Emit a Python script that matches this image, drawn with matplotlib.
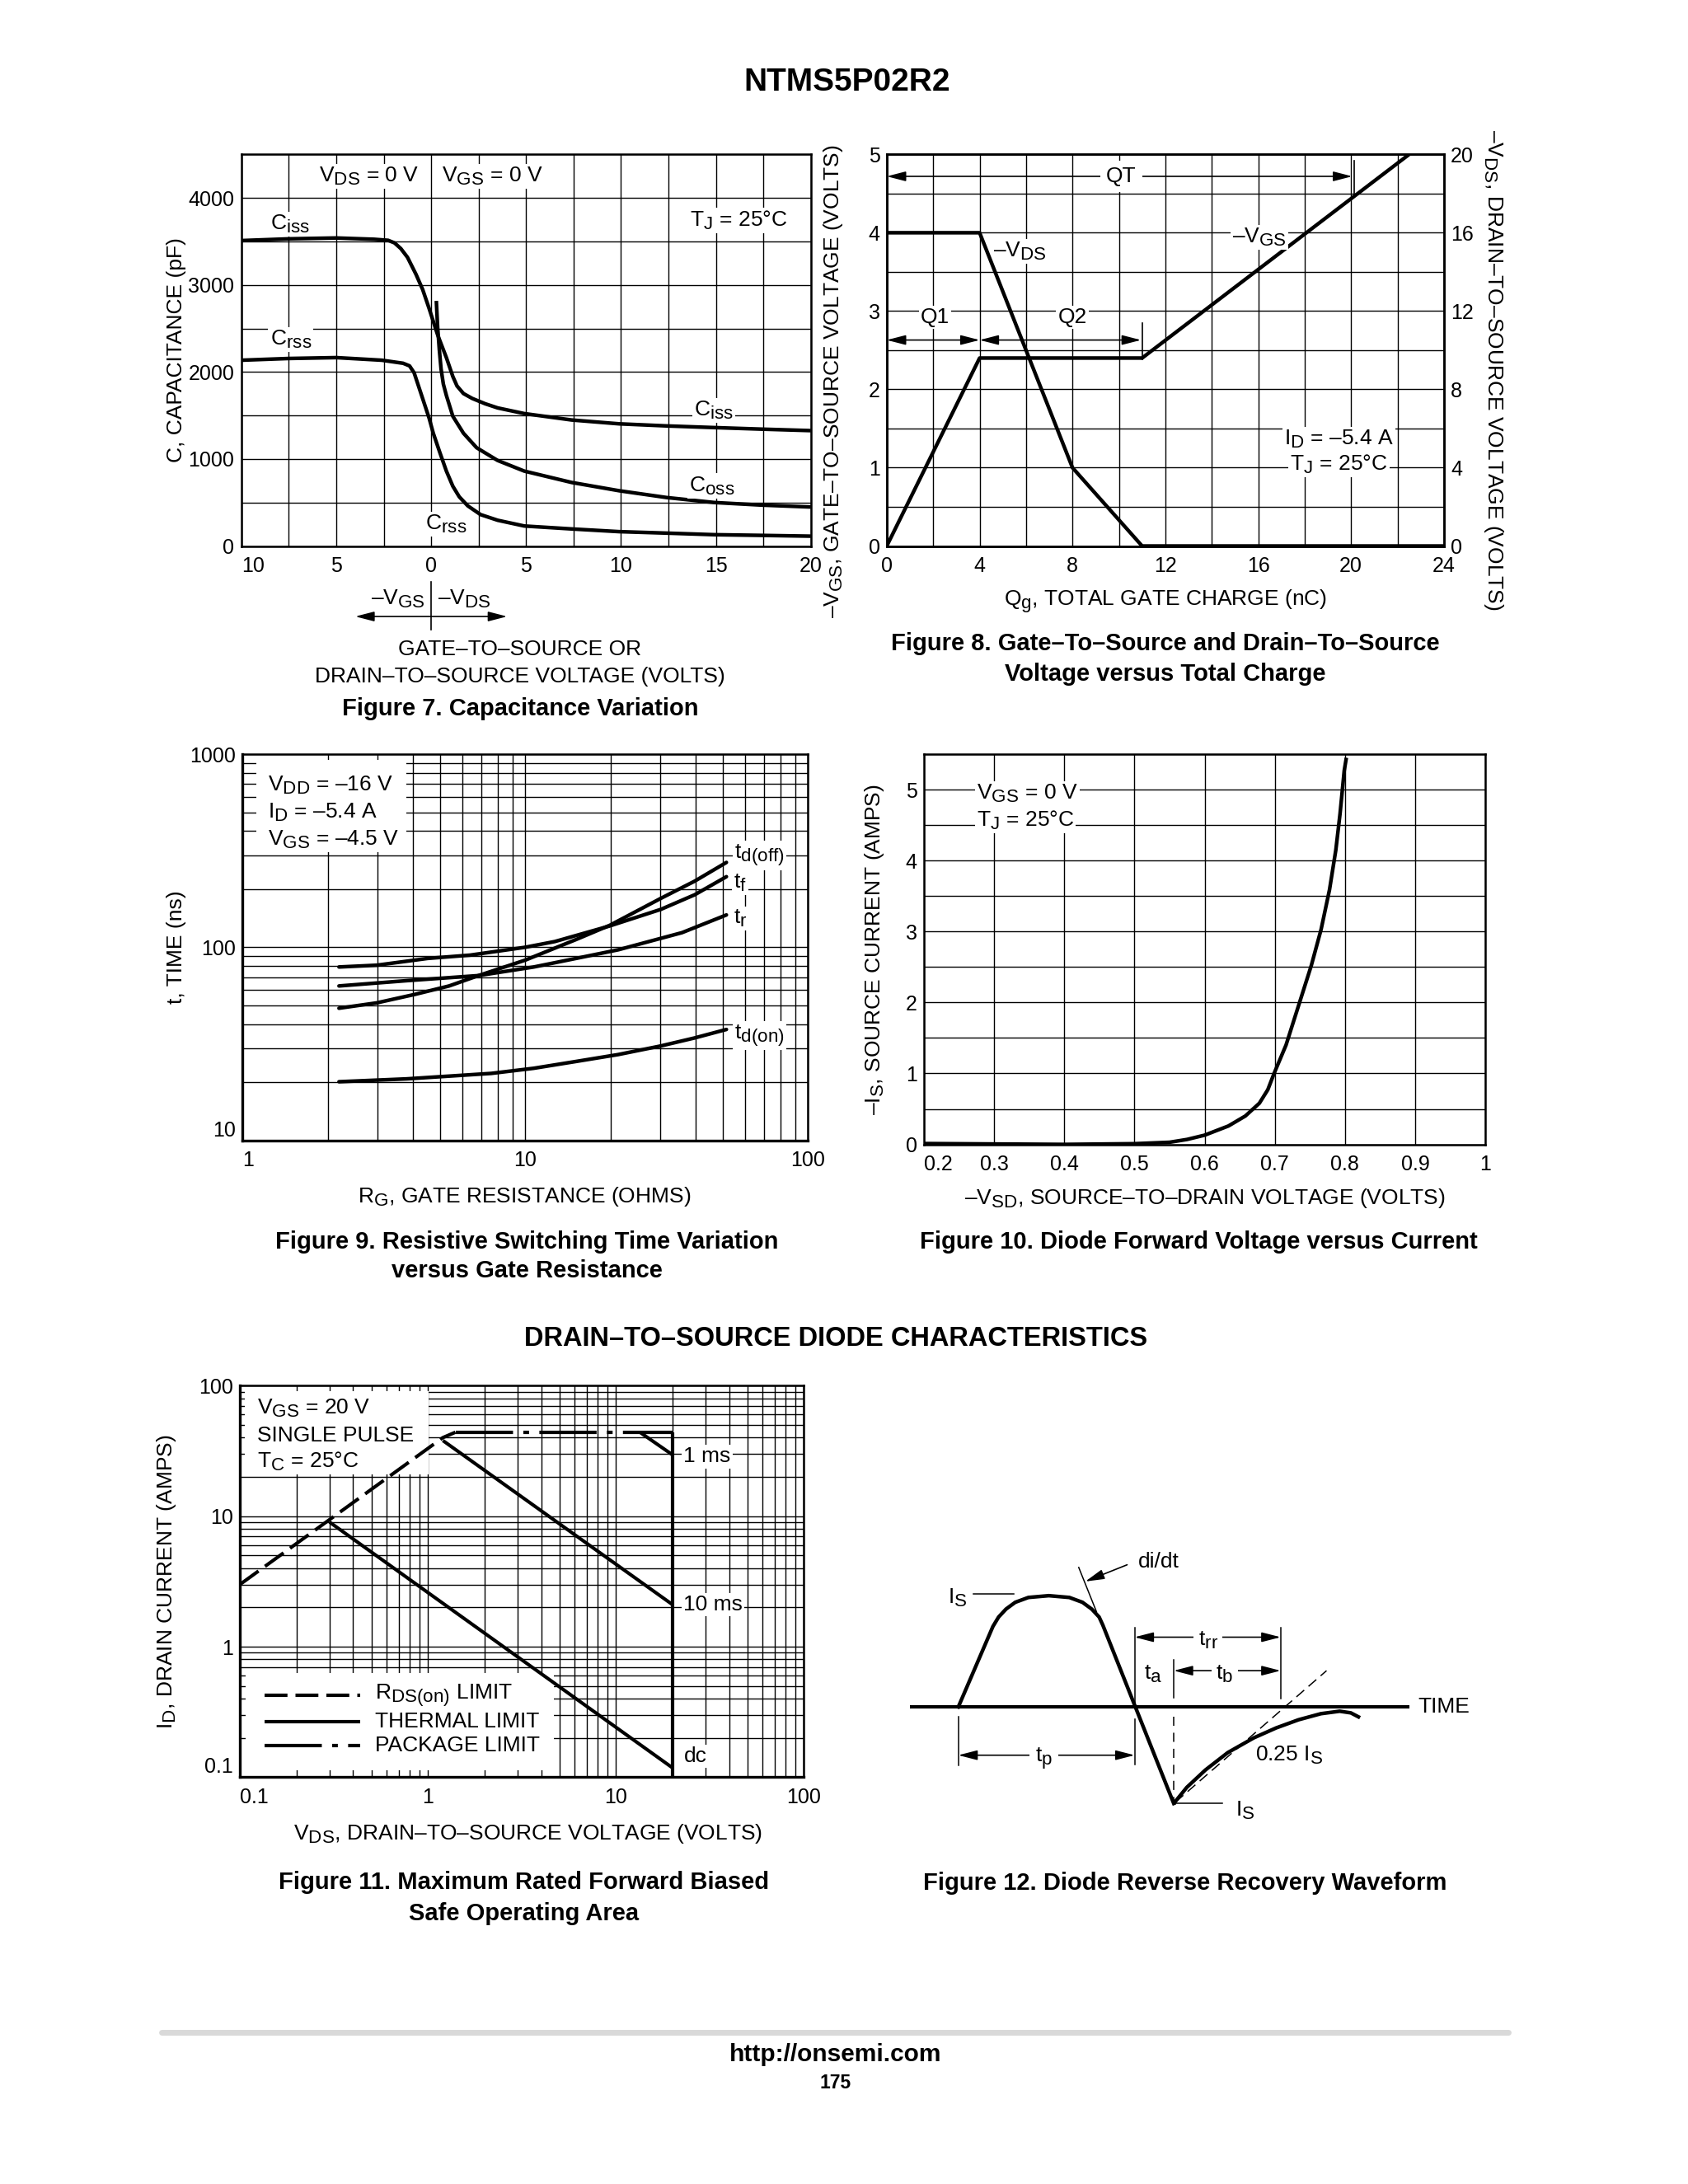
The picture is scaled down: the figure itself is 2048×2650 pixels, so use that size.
import numpy as np
import matplotlib
matplotlib.use("Agg")
import matplotlib.pyplot as plt
from matplotlib.patches import Rectangle
from matplotlib.ticker import MultipleLocator, LogLocator, NullFormatter
import matplotlib.transforms as mtransforms

try:
    import matplotlib._mathtext as _mt
    _mt.SHRINK_FACTOR = 0.85
except Exception:
    pass

plt.rcParams.update({
    "font.family": ["Liberation Sans", "DejaVu Sans"],
    "mathtext.fontset": "custom",
    "mathtext.rm": "Liberation Sans",
    "mathtext.it": "Liberation Sans:italic",
    "mathtext.bf": "Liberation Sans:bold",
    "mathtext.default": "regular",
    "lines.scale_dashes": False,
    "axes.linewidth": 1.8,
})

# ---------------- data: Figure 7 (capacitance) ----------------
f7_ciss_v = [-10, -7.5, -5, -3, -2.27, -1.93, -1.6, -1.25, -0.8, -0.45, -0.11, 0.34, 0.8, 1.14,
             1.36, 1.7, 2.16, 2.84, 3.5, 4.9, 7.4, 9.9, 12.4, 14.9, 17.4, 20]
f7_ciss_c = [3510, 3530, 3540, 3525, 3513, 3483, 3418, 3318, 3122, 2948, 2730, 2426, 2165, 1948,
             1839, 1752, 1696, 1635, 1587, 1522, 1448, 1404, 1380, 1361, 1343, 1326]
f7_coss_v = [0.27, 0.34, 0.43, 0.52, 0.64, 0.8, 1.14, 1.7, 2.39, 3.5, 4.9, 7.4, 9.9, 12.4, 14.9, 17.4, 20]
f7_coss_c = [2817, 2513, 2252, 2035, 1861, 1730, 1491, 1296, 1130, 983, 861, 730, 635, 557, 500, 470, 448]
f7_crss_v = [-10, -7.5, -5, -2.6, -1.48, -1.14, -0.9, -0.57, -0.11, 0.11, 0.45, 0.8, 1.14, 1.48,
             1.93, 2.6, 3.5, 4.9, 7.4, 9.9, 12.4, 14.9, 17.4, 20]
f7_crss_c = [2135, 2155, 2165, 2135, 2100, 2070, 1991, 1774, 1470, 1296, 1078, 861, 687, 565,
             461, 361, 296, 230, 196, 165, 148, 130, 122, 113]
f7_xticks = [-10, -5, 0, 5, 10, 15, 20]
f7_xticklabels = ["10", "5", "0", "5", "10", "15", "20"]
f7_yticks = [0, 1000, 2000, 3000, 4000]

# ---------------- data: Figure 8 (gate charge) ----------------
f8_qg_vgs = [0, 4, 11, 22.5]
f8_vgs = [0, 2.4, 2.4, 5.0]
f8_qg_vds = [0, 4, 8, 11, 24]
f8_vds = [16, 16, 4, 0, 0]
f8_xticks = [0, 4, 8, 12, 16, 20, 24]
f8_yticks = [0, 1, 2, 3, 4, 5]
f8_y2ticks = [0, 4, 8, 12, 16, 20]

# ---------------- data: Figure 9 (switching time) ----------------
f9_rg_off = [2.19, 2.98, 4.07, 5.37, 6.82, 10.0, 15.1, 19.9, 30.1, 39.7, 51.4]
f9_td_off = [48.3, 51.5, 57.0, 63.0, 71.3, 85.8, 109.6, 130, 179, 220, 275]
f9_rg_f = [2.19, 2.98, 4.51, 6.37, 10.0, 12.7, 19.9, 30.1, 39.7, 51.4]
f9_tf = [79, 80.7, 87.5, 91, 100, 107, 129, 157, 187, 232]
f9_rg_r = [2.19, 3.8, 6.82, 10.7, 15.1, 21.3, 35.8, 51.4]
f9_tr = [63, 67.1, 71.3, 79, 87.5, 97, 119, 147]
f9_rg_on = [2.19, 3.8, 7.57, 10.7, 15.1, 21.3, 30.1, 39.7, 51.4]
f9_td_on = [20.1, 20.8, 22.2, 23.6, 25.6, 27.8, 30.8, 33.9, 37.5]

# ---------------- data: Figure 10 (diode forward) ----------------
f10_vsd = [0.2, 0.3, 0.4, 0.5, 0.55, 0.575, 0.6, 0.634, 0.658, 0.678, 0.69, 0.699, 0.716,
           0.734, 0.752, 0.766, 0.778, 0.787, 0.793, 0.799, 0.802]
f10_is = [0.012, 0.006, 0.0, 0.01, 0.03, 0.07, 0.13, 0.26, 0.40, 0.58, 0.77, 1.0, 1.40,
          1.96, 2.52, 3.03, 3.59, 4.15, 4.66, 5.27, 5.45]
f10_xticks = [0.2, 0.3, 0.4, 0.5, 0.6, 0.7, 0.8, 0.9, 1.0]
f10_xticklabels = ["0.2", "0.3", "0.4", "0.5", "0.6", "0.7", "0.8", "0.9", "1"]
f10_yticks = [0, 1, 2, 3, 4, 5]

# ---------------- data: Figure 11 (SOA) ----------------
f11_rds_v = [0.1, 1.2, 1.4]
f11_rds_i = [3.0, 40.0, 44.0]
f11_pkg_v = [1.4, 20.0]
f11_pkg_i = [44.0, 44.0]
f11_1ms_v = [13.4, 20.0]
f11_1ms_i = [44.0, 29.5]
f11_10ms_v = [1.2, 20.0]
f11_10ms_i = [38.0, 2.1]
f11_dc_v = [0.3, 20.0]
f11_dc_i = [9.0, 0.118]
f11_lim_v = [20.0, 20.0]
f11_lim_i = [44.0, 0.1]
f11_ticks = [0.1, 1, 10, 100]
f11_ticklabels = ["0.1", "1", "10", "100"]

# ---------------- data: Figure 12 (schematic waveform, page units) ----------------
f12_pulse_x = [694.9, 720.0, 724.1, 729.5, 736.2, 745.7, 760.5, 775.4, 784.9, 791.6, 797.0, 799.7, 851.1]
f12_pulse_y = [1238.0, 1179.6, 1172.8, 1167.0, 1162.1, 1158.6, 1157.3, 1158.6, 1162.1, 1167.0, 1172.8, 1178.7, 1308.0]
f12_rec_x = [851.1, 860.6, 874.1, 890.3, 909.2, 925.4, 941.6, 957.8, 971.4, 979.5, 986.2]
f12_rec_y = [1308.0, 1296.3, 1283.7, 1271.1, 1260.4, 1253.2, 1247.3, 1242.9, 1241.1, 1242.3, 1245.8]

# ---------------- page layout ----------------
W, H = 1224.0, 1584.0
fig = plt.figure(figsize=(20.48, 26.5), dpi=100)
fig.patch.set_facecolor("white")

def rect(l, t, r, b):
    return [l / W, 1 - b / H, (r - l) / W, (b - t) / H]

def ftext(x, y, s, **kw):
    kw.setdefault("ha", "center")
    kw.setdefault("va", "center")
    fig.text(x / W, 1 - y / H, s, **kw)

TICK, LAB, CAP = 18, 19, 21
LW = 3.2
GLW = 1.0
WB = dict(facecolor="white", edgecolor="none", pad=1.5)
AP2 = dict(arrowstyle="<|-|>,head_length=0.7,head_width=0.18", color="k", lw=1.2,
           shrinkA=0, shrinkB=0, mutation_scale=20)

def style(ax, logaxes=False):
    ax.set_axisbelow(True)
    ax.grid(True, which="both", color="black", linewidth=GLW)
    ax.tick_params(which="both", length=0, labelsize=TICK)
    ax.tick_params(axis="x", pad=9)
    ax.tick_params(axis="y", pad=6)
    for s in ax.spines.values():
        s.set_linewidth(1.8)
    if logaxes:
        ax.spines["left"].set_linewidth(2.4)
        ax.spines["bottom"].set_linewidth(2.4)

# title
ftext(614, 60, "NTMS5P02R2", fontsize=28, fontweight="bold")

# ================= Figure 7 =================
ax7 = fig.add_axes(rect(175, 112, 588, 396))
ax7.set_xlim(-10, 20)
ax7.set_ylim(0, 4500)
ax7.set_xticks(f7_xticks)
ax7.set_xticklabels(f7_xticklabels)
ax7.xaxis.set_minor_locator(MultipleLocator(2.5))
ax7.set_yticks(f7_yticks)
ax7.yaxis.set_minor_locator(MultipleLocator(500))
style(ax7)
ax7.get_xticklabels()[0].set_ha("left")
for xs, ys in [(f7_ciss_v, f7_ciss_c), (f7_coss_v, f7_coss_c), (f7_crss_v, f7_crss_c)]:
    ax7.plot(xs, ys, color="k", lw=LW, zorder=3, solid_capstyle="butt", solid_joinstyle="round")
ax7.text(-7.45, 3700, "$C_{iss}$", fontsize=LAB, ha="center", va="center", bbox=WB, zorder=4)
ax7.text(-7.4, 2370, "$C_{rss}$", fontsize=LAB, ha="center", va="center", bbox=WB, zorder=4)
ax7.text(14.9, 1560, "$C_{iss}$", fontsize=LAB, ha="center", va="center", bbox=WB, zorder=4)
ax7.text(14.8, 690, "$C_{oss}$", fontsize=LAB, ha="center", va="center", bbox=WB, zorder=4)
ax7.text(0.8, 250, "$C_{rss}$", fontsize=LAB, ha="center", va="center", bbox=WB, zorder=4)
ax7.text(16.2, 3740, "$T_J$ = 25°C", fontsize=LAB, ha="center", va="center", bbox=WB, zorder=4)
ax7.text(-3.3, 4250, "$V_{DS}$ = 0 V", fontsize=LAB, ha="center", va="center", bbox=WB, zorder=4)
ax7.text(3.2, 4250, "$V_{GS}$ = 0 V", fontsize=LAB, ha="center", va="center", bbox=WB, zorder=4)
ax7.set_ylabel("C, CAPACITANCE (pF)", fontsize=LAB, va="center")
ax7.yaxis.set_label_coords((128 - 175) / 413, 0.5)
bt7 = mtransforms.blended_transform_factory(ax7.transData, ax7.transAxes)
ax7.plot([0, 0], [-0.092, -0.214], transform=bt7, clip_on=False, color="k", lw=1.2)
ax7.annotate("", xy=(-4, -0.18), xytext=(4, -0.18), xycoords=bt7, textcoords=bt7,
             arrowprops=AP2, annotation_clip=False)
ax7.text(-0.3, -0.135, "–$V_{GS}$", transform=bt7, fontsize=LAB, ha="right", va="center")
ax7.text(0.35, -0.135, "–$V_{DS}$", transform=bt7, fontsize=LAB, ha="left", va="center")
ftext(377, 471, "GATE–TO–SOURCE OR", fontsize=LAB)
ftext(377, 491, "DRAIN–TO–SOURCE VOLTAGE (VOLTS)", fontsize=LAB)
ftext(377, 514, "Figure 7. Capacitance Variation", fontsize=CAP, fontweight="bold")

# ================= Figure 8 =================
ax8 = fig.add_axes(rect(643, 112, 1047, 396))
ax8.set_xlim(0, 24)
ax8.set_ylim(0, 5)
ax8.set_xticks(f8_xticks)
ax8.xaxis.set_minor_locator(MultipleLocator(2))
ax8.set_yticks(f8_yticks)
ax8.yaxis.set_minor_locator(MultipleLocator(0.5))
style(ax8)
ax8.plot(f8_qg_vgs, f8_vgs, color="k", lw=LW, zorder=3, solid_capstyle="butt")
ax8r = ax8.twinx()
ax8r.set_ylim(0, 20)
ax8r.set_yticks(f8_y2ticks)
ax8r.tick_params(length=0, labelsize=TICK, pad=6)
for s in ax8r.spines.values():
    s.set_linewidth(1.8)
ax8r.plot(f8_qg_vds, f8_vds, color="k", lw=LW, zorder=3, solid_capstyle="butt")
ax8.annotate("", xy=(0, 4.72), xytext=(20.05, 4.72), arrowprops=AP2)
ax8.text(10.1, 4.72, "QT", fontsize=LAB, ha="center", va="center", bbox=dict(facecolor="white", edgecolor="none", pad=5), zorder=5)
ax8.plot([20.15, 20.15], [4.48, 4.92], color="k", lw=1.2)
ax8.annotate("", xy=(0, 2.63), xytext=(4, 2.63), arrowprops=AP2)
ax8.annotate("", xy=(4, 2.63), xytext=(10.95, 2.63), arrowprops=AP2)
ax8.plot([11, 11], [2.38, 2.85], color="k", lw=1.2)
ax8.text(2.09, 2.92, "Q1", fontsize=LAB, ha="center", va="center", bbox=WB, zorder=5)
ax8.text(8.0, 2.92, "Q2", fontsize=LAB, ha="center", va="center", bbox=WB, zorder=5)
ax8.text(4.6, 3.76, "–$V_{DS}$", fontsize=LAB, ha="left", va="center", bbox=WB, zorder=5)
ax8.text(16.05, 3.94, "–$V_{GS}$", fontsize=LAB, ha="center", va="center", bbox=WB, zorder=5)
ax8.text(19.47, 1.36, "$I_D$ = –5.4 A", fontsize=LAB, ha="center", va="center", bbox=WB, zorder=5)
ax8.text(19.47, 1.04, "$T_J$ = 25°C", fontsize=LAB, ha="center", va="center", bbox=WB, zorder=5)
ax8.set_ylabel("–$V_{GS}$, GATE–TO–SOURCE VOLTAGE (VOLTS)", fontsize=LAB, va="center")
ax8.yaxis.set_label_coords((604 - 643) / 404, 0.42)
ax8r.set_ylabel("–$V_{DS}$, DRAIN–TO–SOURCE VOLTAGE (VOLTS)", fontsize=LAB, rotation=-90, va="center")
ax8r.yaxis.set_label_coords((1083 - 643) / 404, 0.45)
ax8.set_xlabel("$Q_g$, TOTAL GATE CHARGE (nC)", fontsize=LAB, va="center")
ax8.xaxis.set_label_coords(0.5, -(436 - 396) / 284)
ftext(845, 467, "Figure 8. Gate–To–Source and Drain–To–Source", fontsize=CAP, fontweight="bold")
ftext(845, 489, "Voltage versus Total Charge", fontsize=CAP, fontweight="bold")

# ================= Figure 9 =================
ax9 = fig.add_axes(rect(176, 547, 586, 827))
ax9.set_xscale("log")
ax9.set_yscale("log")
ax9.set_xlim(1, 100)
ax9.set_ylim(10, 1000)
ax9.set_xticks([1, 10, 100])
ax9.set_xticklabels(["1", "10", "100"])
ax9.set_yticks([10, 100, 1000])
ax9.set_yticklabels(["10", "100", "1000"])
ax9.xaxis.set_minor_locator(LogLocator(base=10, subs=range(2, 10)))
ax9.yaxis.set_minor_locator(LogLocator(base=10, subs=range(2, 10)))
ax9.xaxis.set_minor_formatter(NullFormatter())
ax9.yaxis.set_minor_formatter(NullFormatter())
style(ax9, logaxes=True)
ax9.get_xticklabels()[0].set_ha("left")
ax9.get_yticklabels()[0].set_va("bottom")
for xs, ys in [(f9_rg_off, f9_td_off), (f9_rg_f, f9_tf), (f9_rg_r, f9_tr), (f9_rg_on, f9_td_on)]:
    ax9.plot(xs, ys, color="k", lw=LW, zorder=3, solid_capstyle="round")
ax9.add_patch(Rectangle((0.024, 0.746), 0.266, 0.239, transform=ax9.transAxes,
                        facecolor="white", edgecolor="none", zorder=1))
ax9.text(0.044, 0.92, "$V_{DD}$ = –16 V", transform=ax9.transAxes, fontsize=LAB, ha="left", va="center", zorder=4)
ax9.text(0.044, 0.849, "$I_D$ = –5.4 A", transform=ax9.transAxes, fontsize=LAB, ha="left", va="center", zorder=4)
ax9.text(0.044, 0.779, "$V_{GS}$ = –4.5 V", transform=ax9.transAxes, fontsize=LAB, ha="left", va="center", zorder=4)
ax9.text(55, 299, "$t_{d(off)}$", fontsize=LAB, ha="left", va="center", bbox=WB, zorder=4)
ax9.text(54.5, 216, "$t_f$", fontsize=LAB, ha="left", va="center", bbox=WB, zorder=4)
ax9.text(54.5, 141, "$t_r$", fontsize=LAB, ha="left", va="center", bbox=WB, zorder=4)
ax9.text(55, 35, "$t_{d(on)}$", fontsize=LAB, ha="left", va="center", bbox=WB, zorder=4)
ax9.set_ylabel("t, TIME (ns)", fontsize=LAB, va="center")
ax9.yaxis.set_label_coords((128 - 176) / 410, 0.5)
ax9.set_xlabel("$R_G$, GATE RESISTANCE (OHMS)", fontsize=LAB, va="center")
ax9.xaxis.set_label_coords((380 - 176) / 410, -(868 - 827) / 280)
ftext(382, 901, "Figure 9. Resistive Switching Time Variation", fontsize=CAP, fontweight="bold")
ftext(382, 922, "versus Gate Resistance", fontsize=CAP, fontweight="bold")

# ================= Figure 10 =================
ax10 = fig.add_axes(rect(670, 547, 1077, 830))
ax10.set_xlim(0.2, 1.0)
ax10.set_ylim(0, 5.5)
ax10.set_xticks(f10_xticks)
ax10.set_xticklabels(f10_xticklabels)
ax10.set_yticks(f10_yticks)
ax10.yaxis.set_minor_locator(MultipleLocator(0.5))
style(ax10)
ax10.get_xticklabels()[0].set_ha("left")
ax10.plot(f10_vsd, f10_is, color="k", lw=LW, zorder=3, solid_capstyle="butt")
ax10.text(0.275, 4.94, "$V_{GS}$ = 0 V", fontsize=LAB, ha="left", va="center", bbox=WB, zorder=4)
ax10.text(0.275, 4.57, "$T_J$ = 25°C", fontsize=LAB, ha="left", va="center", bbox=WB, zorder=4)
ax10.set_ylabel("–$I_S$, SOURCE CURRENT (AMPS)", fontsize=LAB, va="center")
ax10.yaxis.set_label_coords((634 - 670) / 407, 0.5)
ax10.set_xlabel("–$V_{SD}$, SOURCE–TO–DRAIN VOLTAGE (VOLTS)", fontsize=LAB, va="center")
ax10.xaxis.set_label_coords(0.5, -(869 - 830) / 283)
ftext(869, 901, "Figure 10. Diode Forward Voltage versus Current", fontsize=CAP, fontweight="bold")

ftext(606, 971, "DRAIN–TO–SOURCE DIODE CHARACTERISTICS", fontsize=23.5, fontweight="bold")

# ================= Figure 11 =================
ax11 = fig.add_axes(rect(174, 1005, 583, 1289))
ax11.set_xscale("log")
ax11.set_yscale("log")
ax11.set_xlim(0.1, 100)
ax11.set_ylim(0.1, 100)
ax11.set_xticks(f11_ticks)
ax11.set_xticklabels(f11_ticklabels)
ax11.set_yticks(f11_ticks)
ax11.set_yticklabels(f11_ticklabels)
ax11.xaxis.set_minor_locator(LogLocator(base=10, subs=range(2, 10)))
ax11.yaxis.set_minor_locator(LogLocator(base=10, subs=range(2, 10)))
ax11.xaxis.set_minor_formatter(NullFormatter())
ax11.yaxis.set_minor_formatter(NullFormatter())
style(ax11, logaxes=True)
ax11.get_xticklabels()[0].set_ha("left")
ax11.get_yticklabels()[0].set_va("bottom")
RDS_DASH = (0, (20, 7))
PKG_DASH = (0, (50, 9, 5, 9))
ax11.plot(f11_rds_v, f11_rds_i, color="k", lw=3.0, ls=RDS_DASH, zorder=3)
ax11.plot(f11_pkg_v, f11_pkg_i, color="k", lw=3.0, ls=PKG_DASH, zorder=3)
for xs, ys in [(f11_1ms_v, f11_1ms_i), (f11_10ms_v, f11_10ms_i), (f11_dc_v, f11_dc_i), (f11_lim_v, f11_lim_i)]:
    ax11.plot(xs, ys, color="k", lw=3.0, zorder=3, solid_capstyle="butt")
ax11.text(22.9, 28.6, "1 ms", fontsize=LAB, ha="left", va="center", bbox=WB, zorder=4)
ax11.text(22.9, 2.1, "10 ms", fontsize=LAB, ha="left", va="center", bbox=WB, zorder=4)
ax11.text(22.9, 0.145, "dc", fontsize=LAB, ha="left", va="center", bbox=WB, zorder=4)
ax11.add_patch(Rectangle((0.008, 0.773), 0.326, 0.212, transform=ax11.transAxes,
                         facecolor="white", edgecolor="none", zorder=1))
ax11.text(0.030, 0.941, "$V_{GS}$ = 20 V", transform=ax11.transAxes, fontsize=LAB, ha="left", va="center", zorder=4)
ax11.text(0.030, 0.873, "SINGLE PULSE", transform=ax11.transAxes, fontsize=LAB, ha="left", va="center", zorder=4)
ax11.text(0.030, 0.806, "$T_C$ = 25°C", transform=ax11.transAxes, fontsize=LAB, ha="left", va="center", zorder=4)
# legend block
ax11.add_patch(Rectangle((0.010, 0.017), 0.547, 0.25, transform=ax11.transAxes,
                         facecolor="white", edgecolor="none", zorder=1))
leg_rows = [(0.2094, RDS_DASH, "$R_{DS(on)}$ LIMIT"), (0.1424, "-", "THERMAL LIMIT"),
            (0.0810, PKG_DASH, "PACKAGE LIMIT")]
for yy, ls, lab in leg_rows:
    ax11.plot([0.0435, 0.2125], [yy, yy], transform=ax11.transAxes, color="k", lw=3.0, ls=ls,
              zorder=3, solid_capstyle="butt")
    ax11.text(0.24, yy, lab, transform=ax11.transAxes, fontsize=LAB, ha="left", va="center", zorder=4)
ax11.set_ylabel("$I_D$, DRAIN CURRENT (AMPS)", fontsize=LAB, va="center")
ax11.yaxis.set_label_coords((121 - 174) / 409, 0.5)
ax11.set_xlabel("$V_{DS}$, DRAIN–TO–SOURCE VOLTAGE (VOLTS)", fontsize=LAB, va="center")
ax11.xaxis.set_label_coords((383 - 174) / 409, -(1330 - 1289) / 284)
ftext(380, 1365, "Figure 11. Maximum Rated Forward Biased", fontsize=CAP, fontweight="bold")
ftext(380, 1388, "Safe Operating Area", fontsize=CAP, fontweight="bold")

# ================= Figure 12 =================
ax12 = fig.add_axes(rect(620, 1110, 1090, 1340))
ax12.set_xlim(620, 1090)
ax12.set_ylim(1340, 1110)
ax12.axis("off")
TH = 1.1
ax12.plot([660, 1022], [1238, 1238], color="k", lw=3.0, solid_capstyle="butt")
ax12.text(1028, 1238, "TIME", fontsize=LAB, ha="left", va="center")
ax12.plot(f12_pulse_x, f12_pulse_y, color="k", lw=LW, solid_joinstyle="miter", zorder=3)
ax12.plot(f12_rec_x, f12_rec_y, color="k", lw=LW, solid_capstyle="butt", zorder=3)
# di/dt tangent and pointer
ax12.plot([782.2, 795.1], [1136.8, 1169.0], color="k", lw=TH)
ax12.annotate("", xy=(787.0, 1147.0), xytext=(817.3, 1134.9),
              arrowprops=dict(arrowstyle="-|>,head_length=0.7,head_width=0.18", color="k", lw=1.2,
                              shrinkA=0, shrinkB=0, mutation_scale=20))
ax12.text(825.4, 1133, "di/dt", fontsize=LAB, ha="left", va="center")
# upper Is
ax12.plot([706, 735], [1156, 1156], color="k", lw=TH)
ax12.text(687.6, 1159, "$I_S$", fontsize=LAB, ha="left", va="center")
# trr / ta / tb
ax12.plot([822.7, 822.7], [1180.6, 1236.0], color="k", lw=TH)
ax12.plot([928.6, 928.6], [1180.6, 1232.2], color="k", lw=TH)
ax12.annotate("", xy=(822.7, 1187.4), xytext=(928.6, 1187.4), arrowprops=AP2)
ax12.text(876.0, 1189.5, "$t_{rr}$", fontsize=LAB, ha="center", va="center",
          bbox=dict(facecolor="white", edgecolor="none", pad=4), zorder=5)
ax12.plot([851.1, 851.1], [1204.0, 1231.2], color="k", lw=TH)
ax12.plot([851.1, 851.1], [1245.0, 1306.0], color="k", lw=TH, ls=(0, (8, 6)))
ax12.annotate("", xy=(851.1, 1211.7), xytext=(928.6, 1211.7), arrowprops=AP2)
ax12.text(888.1, 1214.0, "$t_b$", fontsize=LAB, ha="center", va="center",
          bbox=dict(facecolor="white", edgecolor="none", pad=4), zorder=5)
ax12.text(836.2, 1214.0, "$t_a$", fontsize=LAB, ha="center", va="center")
# tp
ax12.plot([694.9, 694.9], [1244.8, 1280.4], color="k", lw=TH)
ax12.plot([822.7, 822.7], [1246.8, 1279.8], color="k", lw=TH)
ax12.annotate("", xy=(694.9, 1273.0), xytext=(822.7, 1273.0), arrowprops=AP2)
ax12.text(757.0, 1275.0, "$t_p$", fontsize=LAB, ha="center", va="center",
          bbox=dict(facecolor="white", edgecolor="none", pad=5), zorder=5)
# 0.25 Is dashed line
ax12.plot([852.4, 961.9], [1307.0, 1211.7], color="k", lw=TH, ls=(0, (9, 5)))
ax12.text(910.5, 1273.0, "0.25 $I_S$", fontsize=LAB, ha="left", va="center")
# lower Is
ax12.plot([851.1, 886.2], [1308.0, 1308.0], color="k", lw=TH)
ax12.text(895.7, 1313.0, "$I_S$", fontsize=LAB, ha="left", va="center")
ftext(859, 1366, "Figure 12. Diode Reverse Recovery Waveform", fontsize=CAP, fontweight="bold")

# footer
fig.add_artist(plt.Line2D([117 / W, 1094 / W], [1 - 1474 / H, 1 - 1474 / H], color="#d9d9d9", lw=5,
                          solid_capstyle="round", transform=fig.transFigure))
ftext(606, 1490, "http://onsemi.com", fontsize=21.5, fontweight="bold")
ftext(606, 1511, "175", fontsize=16.5, fontweight="bold")

fig.savefig("out.png", dpi=100, facecolor="white")
